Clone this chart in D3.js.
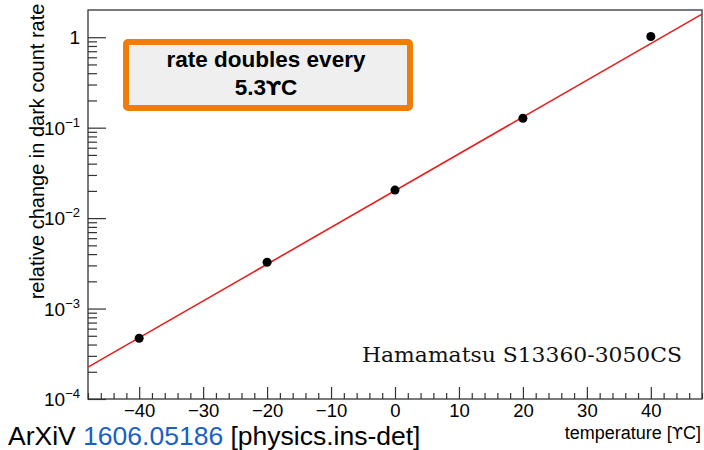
<!DOCTYPE html>
<html>
<head>
<meta charset="utf-8">
<script src="https://cdn.jsdelivr.net/npm/d3@7"></script>
<style>
  html, body { margin: 0; padding: 0; background: #fff; }
  svg { display: block; }
</style>
</head>
<body>
<svg id="chart" width="704" height="450" font-family="'Liberation Sans', Arial, Helvetica, sans-serif"></svg>
<script>
// Measured temperatures (°C) and relative dark count rate
const temperatures = [-40, -20, 0, 20, 40];
const relativeRates = [4.7e-4, 3.25e-3, 0.0204, 0.127, 1.02];

// Exponential fit, evaluated at the ends of the temperature range
const fitTemps = [-48, 48];
const fitRates = [2.25e-4, 1.8];

// Axis ticks
const xMajorTicks = [-40, -30, -20, -10, 0, 10, 20, 30, 40];
const yMajorTicks = [1e-4, 1e-3, 1e-2, 1e-1, 1];
const yTickExponents = ["\u22124", "\u22123", "\u22122", "\u22121", ""];

const svg = d3.select("#chart");
const margin = { left: 88, right: 2, top: 10, bottom: 51 };
const W = 704, H = 450;
const x0 = margin.left, x1 = W - margin.right, y0 = margin.top, y1 = H - margin.bottom;

const x = d3.scaleLinear().domain([-48, 48]).range([x0, x1]);
const y = d3.scaleLog().domain([1e-4, 2]).range([y1, y0]);

// Plot frame
svg.append("rect")
  .attr("x", x0).attr("y", y0)
  .attr("width", x1 - x0).attr("height", y1 - y0)
  .attr("fill", "none").attr("stroke", "#333").attr("stroke-width", 1.3);

// Bottom axis: major every 10, minor every 2, ticks pointing inward
const xMinor = d3.range(-48, 49, 2).filter(v => v % 10 !== 0);
const xAxisMajor = d3.axisBottom(x).tickValues(xMajorTicks).tickSize(-12).tickPadding(5)
  .tickFormat(d => d < 0 ? "\u2212" + Math.abs(d) : String(d));
const xAxisMinor = d3.axisBottom(x).tickValues(xMinor).tickSize(-6).tickFormat("");
const gxMinor = svg.append("g").attr("transform", `translate(0,${y1})`).call(xAxisMinor);
const gx = svg.append("g").attr("transform", `translate(0,${y1})`).call(xAxisMajor);
[gx, gxMinor].forEach(g => {
  g.attr("font-family", null);
  g.select(".domain").remove();
  g.selectAll("line").attr("stroke", "#333").attr("stroke-width", 1.2);
});
gx.selectAll("text").attr("font-size", 18.5).attr("fill", "#000");

// Left axis: decades with 2..9 minor ticks
const yMinor = [];
[1e-4, 1e-3, 1e-2, 1e-1].forEach(d => { for (let k = 2; k <= 9; k++) yMinor.push(k * d); });
const yAxisMajor = d3.axisLeft(y).tickValues(yMajorTicks).tickSize(-18).tickFormat("");
const yAxisMinor = d3.axisLeft(y).tickValues(yMinor).tickSize(-9).tickFormat("");
const gyMinor = svg.append("g").attr("transform", `translate(${x0},0)`).call(yAxisMinor);
const gy = svg.append("g").attr("transform", `translate(${x0},0)`).call(yAxisMajor);
[gy, gyMinor].forEach(g => {
  g.select(".domain").remove();
  g.selectAll("line").attr("stroke", "#333").attr("stroke-width", 1.2);
});

// Decade labels written as 10^n
const yLabels = svg.append("g");
yMajorTicks.forEach((v, i) => {
  const t = yLabels.append("text")
    .attr("x", 80).attr("y", y(v) + 7)
    .attr("text-anchor", "end").attr("font-size", 19).attr("fill", "#000");
  if (yTickExponents[i] === "") {
    t.text("1");
  } else {
    t.append("tspan").text("10");
    t.append("tspan").attr("font-size", 13).attr("dy", -8).text(yTickExponents[i]);
  }
});

// Axis titles
svg.append("text")
  .attr("transform", `translate(44,${(5 + 298) / 2}) rotate(-90)`)
  .attr("text-anchor", "middle").attr("font-size", 20).attr("fill", "#000")
  .text("relative change in dark count rate");

const xTitle = svg.append("text")
  .attr("x", 701).attr("y", 439)
  .attr("text-anchor", "end").attr("font-size", 18).attr("fill", "#000");
xTitle.append("tspan").text("temperature [");
xTitle.append("tspan").attr("font-family", "'DejaVu Sans', sans-serif").attr("font-size", 16).text("\u03D2");
xTitle.append("tspan").text("C]");

// Fit line
const line = d3.line().x(d => x(d[0])).y(d => y(d[1]));
svg.append("path")
  .datum(d3.zip(fitTemps, fitRates))
  .attr("d", line)
  .attr("fill", "none").attr("stroke", "#e5201e").attr("stroke-width", 1.6);

// Data points
svg.append("g").selectAll("circle")
  .data(d3.zip(temperatures, relativeRates))
  .join("circle")
  .attr("cx", d => x(d[0])).attr("cy", d => y(d[1]))
  .attr("r", 4.5).attr("fill", "#000");

// Annotation box
svg.append("rect")
  .attr("x", 126).attr("y", 42).attr("width", 284).attr("height", 66)
  .attr("rx", 2)
  .attr("fill", "#efefef").attr("stroke", "#f07c0c").attr("stroke-width", 6);
svg.append("text")
  .attr("x", 266).attr("y", 67).attr("text-anchor", "middle")
  .attr("font-size", 22.5).attr("font-weight", "bold").attr("fill", "#000")
  .text("rate doubles every");
const boxLine2 = svg.append("text")
  .attr("x", 266).attr("y", 95).attr("text-anchor", "middle")
  .attr("font-size", 22.5).attr("font-weight", "bold").attr("fill", "#000");
boxLine2.append("tspan").text("5.3");
boxLine2.append("tspan").attr("font-family", "'DejaVu Sans', sans-serif").attr("font-size", 20).text("\u03D2");
boxLine2.append("tspan").text("C");

// Device label
svg.append("text")
  .attr("x", 362).attr("y", 362)
  .attr("font-family", "'DejaVu Serif', 'Liberation Serif', serif")
  .attr("font-size", 21).attr("fill", "#111")
  .attr("textLength", 320).attr("lengthAdjust", "spacingAndGlyphs")
  .text("Hamamatsu S13360-3050CS");

// Reference line
const ref = svg.append("text").attr("x", 8).attr("y", 445).attr("font-size", 26.5).attr("fill", "#000");
ref.append("tspan").text("ArXiV ");
ref.append("tspan").attr("fill", "#1a5fc7").text("1606.05186");
ref.append("tspan").text(" [physics.ins-det]");
</script>
</body>
</html>
